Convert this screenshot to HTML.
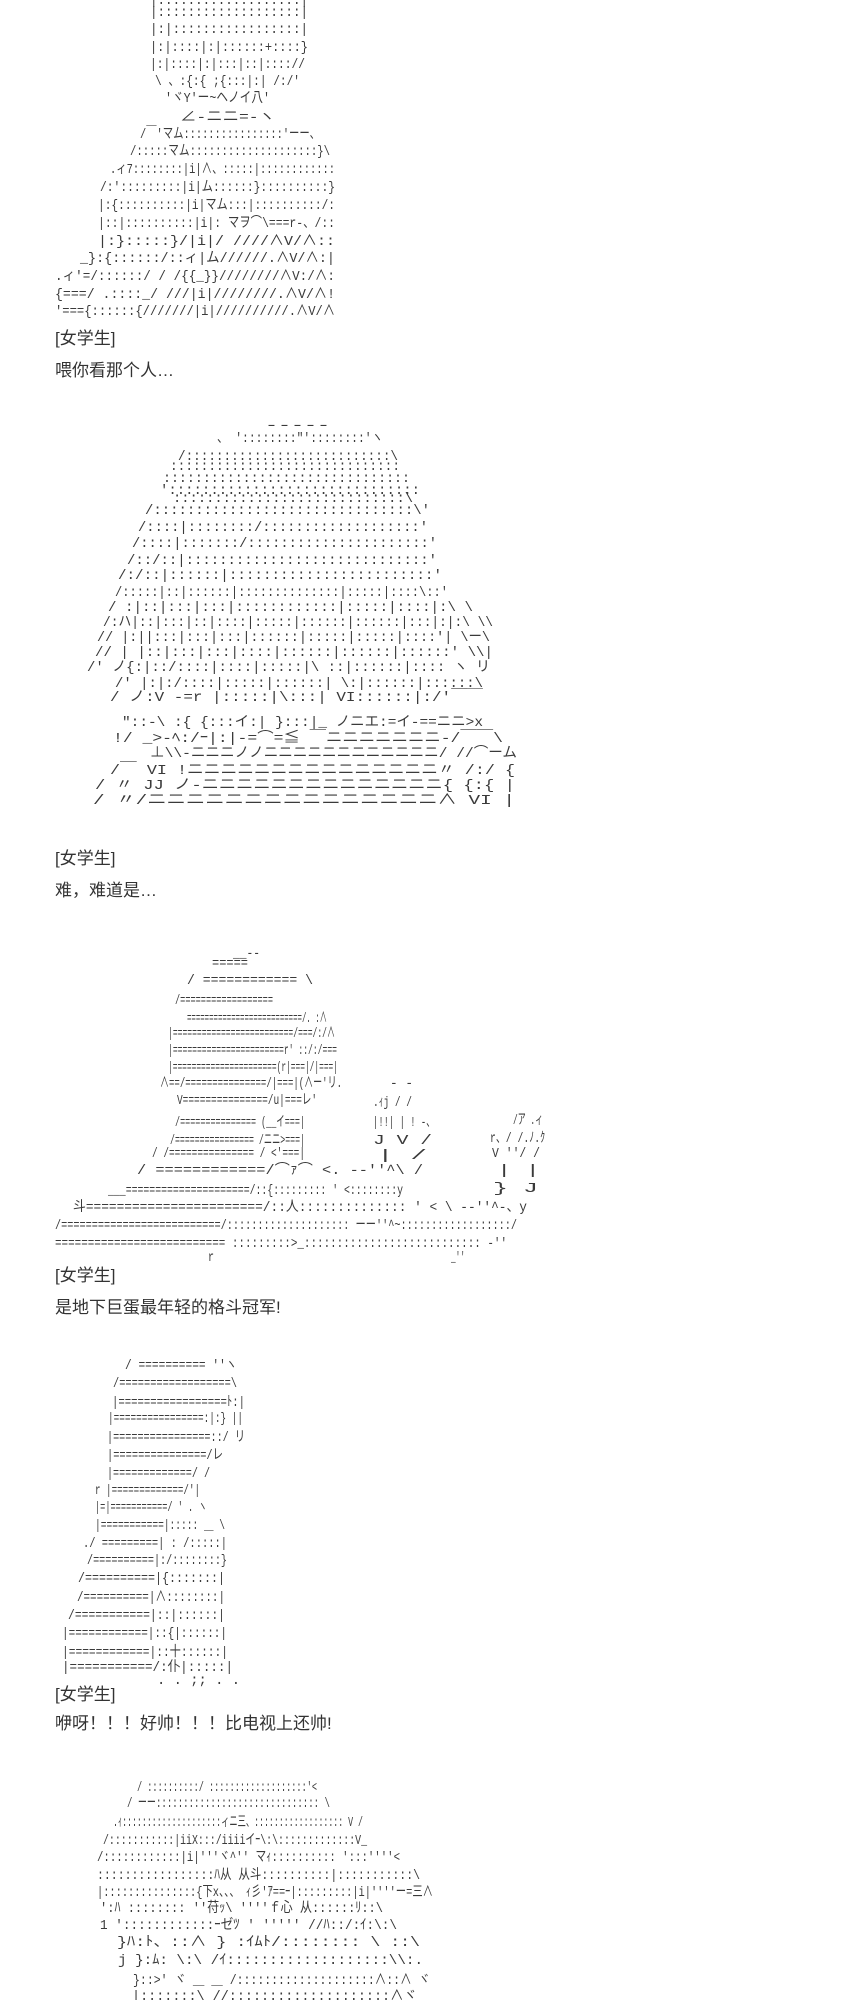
<!DOCTYPE html>
<html><head><meta charset="utf-8"><style>
html,body{margin:0;padding:0;background:#fff;width:857px;height:2000px;overflow:hidden;position:relative}
svg{display:block;position:absolute;left:0}
.a{font-family:"Liberation Mono","Noto Sans CJK JP",monospace;font-size:14px;fill:#3a3a3a}
.t{position:absolute;left:55px;font-family:"Liberation Sans","Noto Sans CJK SC",sans-serif;font-size:17px;line-height:20px;color:#333;white-space:nowrap}
</style></head><body>

<svg style="top:0" width="857" height="330" xmlns="http://www.w3.org/2000/svg" class="a" xml:space="preserve">
<text x="150" y="4" textLength="158" lengthAdjust="spacingAndGlyphs">|:::::::::::::::::::|</text>
<text x="150" y="16" textLength="158" lengthAdjust="spacingAndGlyphs">|:::::::::::::::::::|</text>
<text x="150" y="33" textLength="158" lengthAdjust="spacingAndGlyphs">|:|:::::::::::::::::|</text>
<text x="150" y="51" textLength="158" lengthAdjust="spacingAndGlyphs">|:|::::|:|::::::+::::}</text>
<text x="150" y="68" textLength="155" lengthAdjust="spacingAndGlyphs">|:|::::|:|:::|::|:::://</text>
<text x="155" y="85" textLength="145" lengthAdjust="spacingAndGlyphs">\ 、:{:{ ;{:::|:|  /:/'</text>
<text x="165" y="102" textLength="105" lengthAdjust="spacingAndGlyphs">'ヾY'ー~ヘノイ八'</text>
<text x="180" y="121" textLength="95" lengthAdjust="spacingAndGlyphs">∠-ニニ=-ヽ</text>
<text x="140" y="138" textLength="180" lengthAdjust="spacingAndGlyphs">/￣'マム::::::::::::::::'ーー、</text>
<text x="130" y="155" textLength="200" lengthAdjust="spacingAndGlyphs">/:::::マム::::::::::::::::::::}\</text>
<text x="110" y="173" textLength="225" lengthAdjust="spacingAndGlyphs">.ィ7::::::::|i|∧、:::::|::::::::::::</text>
<text x="100" y="191" textLength="235" lengthAdjust="spacingAndGlyphs">/:':::::::::|i|ム::::::}::::::::::}</text>
<text x="98" y="209" textLength="237" lengthAdjust="spacingAndGlyphs">|:{::::::::::|i|マム:::|::::::::::/:</text>
<text x="98" y="227" textLength="237" lengthAdjust="spacingAndGlyphs">|::|::::::::::|i|: マヲ⌒\===r-、/::</text>
<text x="98" y="245" textLength="237" lengthAdjust="spacingAndGlyphs">|:}:::::}/|i|/ ////∧V/∧::</text>
<text x="80" y="262" textLength="255" lengthAdjust="spacingAndGlyphs">_}:{::::::/::ィ|ム//////.∧V/∧:|</text>
<text x="55" y="280" textLength="280" lengthAdjust="spacingAndGlyphs">.ィ'=/::::::/ / /{{_}}////////∧V:/∧:</text>
<text x="55" y="298" textLength="280" lengthAdjust="spacingAndGlyphs">{===/ .::::_/ ///|i|////////.∧V/∧!</text>
<text x="55" y="315" textLength="280" lengthAdjust="spacingAndGlyphs">'==={::::::{///////|i|//////////.∧V/∧</text>
</svg>

<svg style="top:400px" width="857" height="420" xmlns="http://www.w3.org/2000/svg" class="a" xml:space="preserve">
<g transform="translate(0,-400)">
<text x="265" y="429" textLength="65" lengthAdjust="spacingAndGlyphs">-----</text>
<text x="217" y="442" textLength="166" lengthAdjust="spacingAndGlyphs">、 '::::::::"'::::::::'ヽ</text>
<text x="178" y="460" textLength="220" lengthAdjust="spacingAndGlyphs">/:::::::::::::::::::::::::::\</text>
<text x="170" y="470" textLength="230" lengthAdjust="spacingAndGlyphs">::::::::::::::::::::::::::::::</text>
<text x="163" y="482" textLength="247" lengthAdjust="spacingAndGlyphs">:::::::::::::::::::::::::::::::</text>
<text x="160" y="494" textLength="260" lengthAdjust="spacingAndGlyphs">'::::::::::::::::::::::::::::::</text>
<text x="173" y="502" textLength="240" lengthAdjust="spacingAndGlyphs">::::::::::::::::::::::::::::\</text>
<text x="145" y="514" textLength="285" lengthAdjust="spacingAndGlyphs">/:::::::::::::::::::::::::::::::\'</text>
<text x="138" y="531" textLength="290" lengthAdjust="spacingAndGlyphs">/::::|::::::::/:::::::::::::::::::'</text>
<text x="132" y="547" textLength="305" lengthAdjust="spacingAndGlyphs">/::::|:::::::/::::::::::::::::::::::'</text>
<text x="127" y="564" textLength="310" lengthAdjust="spacingAndGlyphs">/::/::|:::::::::::::::::::::::::::::'</text>
<text x="118" y="579" textLength="324" lengthAdjust="spacingAndGlyphs">/:/::|::::::|::::::::::::::::::::::::'</text>
<text x="115" y="596" textLength="333" lengthAdjust="spacingAndGlyphs">/:::::|::|::::::|::::::::::::::|:::::|::::\::'</text>
<text x="108" y="611" textLength="365" lengthAdjust="spacingAndGlyphs">/ :|::|:::|:::|::::::::::::|:::::|::::|:\  \</text>
<text x="103" y="626" textLength="390" lengthAdjust="spacingAndGlyphs">/:ハ|::|:::|::|::::|:::::|::::::|::::::|:::|:|:\ \\</text>
<text x="97" y="641" textLength="393" lengthAdjust="spacingAndGlyphs">// |:||:::|:::|:::|::::::|:::::|:::::|::::'|  \ー\</text>
<text x="95" y="656" textLength="398" lengthAdjust="spacingAndGlyphs">//  | |::|:::|:::|::::|::::::|::::::|::::::'   \\|</text>
<text x="87" y="671" textLength="403" lengthAdjust="spacingAndGlyphs">/'   ノ{:|::/::::|::::|:::::|\ ::|::::::|::::  ヽ  リ</text>
<text x="115" y="687" textLength="368" lengthAdjust="spacingAndGlyphs">/'  |:|:/::::|:::::|::::::| \:|::::::|::::::\</text>
<text x="110" y="701" textLength="373" lengthAdjust="spacingAndGlyphs">/  ノ:V -=r |:::::|\:::|   VI::::::|:/'￣￣</text>
<text x="122" y="726" textLength="361" lengthAdjust="spacingAndGlyphs">"::-\ :{ {:::イ:|  }:::|_ ノニエ:=イ-==ニニ&gt;x</text>
<text x="113" y="742" textLength="390" lengthAdjust="spacingAndGlyphs">!/   _&gt;-ﾍ:/ｰ|:|-=⌒=≦ ￣ニニニニニニニ-/￣￣\</text>
<text x="150" y="757" textLength="367" lengthAdjust="spacingAndGlyphs">⊥\\-ニニニノノニニニニニニニニニニニニ/ //⌒ーム</text>
<text x="110" y="774" textLength="405" lengthAdjust="spacingAndGlyphs">/￣  VI !ニニニニニニニニニニニニニニニ〃 /:/      {</text>
<text x="95" y="789" textLength="420" lengthAdjust="spacingAndGlyphs">/  〃   JJ ノ-ニニニニニニニニニニニニニニ{ {:{      |</text>
<text x="93" y="804" textLength="422" lengthAdjust="spacingAndGlyphs">/     〃/ニニニニニニニニニニニニニニニ∧ VI      |</text>
</g>
</svg>

<svg style="top:940px" width="857" height="330" xmlns="http://www.w3.org/2000/svg" class="a" xml:space="preserve">
<g transform="translate(0,-940)">
<text x="233" y="957" textLength="27" lengthAdjust="spacingAndGlyphs">__--</text>
<text x="212" y="967" textLength="36" lengthAdjust="spacingAndGlyphs">=====</text>
<text x="187" y="984" textLength="126" lengthAdjust="spacingAndGlyphs">/ ============        \</text>
<text x="175" y="1004" textLength="98" lengthAdjust="spacingAndGlyphs">/==================</text>
<text x="187" y="1022" textLength="140" lengthAdjust="spacingAndGlyphs">==========================/. :∧</text>
<text x="168" y="1037" textLength="167" lengthAdjust="spacingAndGlyphs">|=========================/===/:/∧</text>
<text x="168" y="1054" textLength="169" lengthAdjust="spacingAndGlyphs">|=======================r'  ::/:/===</text>
<text x="168" y="1071" textLength="170" lengthAdjust="spacingAndGlyphs">|======================(r|===|/|===|</text>
<text x="160" y="1087" textLength="182" lengthAdjust="spacingAndGlyphs">∧==/===============/|===|(∧ー'リ.</text>
<text x="390" y="1087" textLength="23" lengthAdjust="spacingAndGlyphs">- -</text>
<text x="177" y="1104" textLength="140" lengthAdjust="spacingAndGlyphs">V===============/u|===レ'</text>
<text x="373" y="1106" textLength="39" lengthAdjust="spacingAndGlyphs">.ｨj / /</text>
<text x="175" y="1126" textLength="130" lengthAdjust="spacingAndGlyphs">/===============  (__イ===|</text>
<text x="373" y="1126" textLength="62" lengthAdjust="spacingAndGlyphs">|!!| |  !  -、</text>
<text x="513" y="1124" textLength="30" lengthAdjust="spacingAndGlyphs">/ア .ィ</text>
<text x="170" y="1144" textLength="135" lengthAdjust="spacingAndGlyphs">/================ /ニニ&gt;===|</text>
<text x="373" y="1144" textLength="59" lengthAdjust="spacingAndGlyphs">J    V  /</text>
<text x="490" y="1142" textLength="55" lengthAdjust="spacingAndGlyphs">r、/ /.ﾉ.ｸ</text>
<text x="152" y="1157" textLength="153" lengthAdjust="spacingAndGlyphs">/ /=============== /   &lt;'===|</text>
<text x="377" y="1159" textLength="50" lengthAdjust="spacingAndGlyphs">|         /</text>
<text x="492" y="1157" textLength="48" lengthAdjust="spacingAndGlyphs">V  ''/ /</text>
<text x="137" y="1174" textLength="286" lengthAdjust="spacingAndGlyphs">/ ============/⌒ｧ⌒  &lt;.  --''^\   /</text>
<text x="497" y="1174" textLength="43" lengthAdjust="spacingAndGlyphs">|     |</text>
<text x="108" y="1194" textLength="295" lengthAdjust="spacingAndGlyphs">___=====================/::{:::::::::  ' &lt;::::::::y</text>
<text x="493" y="1192" textLength="45" lengthAdjust="spacingAndGlyphs">}   J</text>
<text x="73" y="1211" textLength="454" lengthAdjust="spacingAndGlyphs">斗=======================/::人::::::::::::::  ' &lt;  \    --''^-、y</text>
<text x="55" y="1229" textLength="462" lengthAdjust="spacingAndGlyphs">/==========================/::::::::::::::::::::    ーー''^~::::::::::::::::::/</text>
<text x="55" y="1247" textLength="452" lengthAdjust="spacingAndGlyphs">==========================  :::::::::&gt;_:::::::::::::::::::::::::::  -''</text>
<text x="208" y="1261" textLength="6" lengthAdjust="spacingAndGlyphs">r</text>
<text x="451" y="1261" textLength="14" lengthAdjust="spacingAndGlyphs">_''</text>
</g>
</svg>

<svg style="top:1355px" width="857" height="335" xmlns="http://www.w3.org/2000/svg" class="a" xml:space="preserve">
<g transform="translate(0,-1355)">
<text x="125" y="1369" textLength="112" lengthAdjust="spacingAndGlyphs">/ ==========  ''ヽ</text>
<text x="113" y="1387" textLength="124" lengthAdjust="spacingAndGlyphs">/==================\</text>
<text x="112" y="1406" textLength="133" lengthAdjust="spacingAndGlyphs">|=================ﾄ:|</text>
<text x="108" y="1422" textLength="135" lengthAdjust="spacingAndGlyphs">|================:|:} ||</text>
<text x="107" y="1441" textLength="138" lengthAdjust="spacingAndGlyphs">|================::/ リ</text>
<text x="107" y="1459" textLength="116" lengthAdjust="spacingAndGlyphs">|===============/レ</text>
<text x="107" y="1477" textLength="103" lengthAdjust="spacingAndGlyphs">|=============/ /</text>
<text x="95" y="1494" textLength="105" lengthAdjust="spacingAndGlyphs">r |=============/'|</text>
<text x="95" y="1511" textLength="112" lengthAdjust="spacingAndGlyphs">|=|===========/ ' . ヽ</text>
<text x="95" y="1529" textLength="130" lengthAdjust="spacingAndGlyphs">|===========|:::::  ＿ \</text>
<text x="83" y="1547" textLength="144" lengthAdjust="spacingAndGlyphs">./ =========|  :  /:::::|</text>
<text x="87" y="1564" textLength="140" lengthAdjust="spacingAndGlyphs">/==========|:/::::::::}</text>
<text x="78" y="1582" textLength="147" lengthAdjust="spacingAndGlyphs">/==========|{:::::::|</text>
<text x="77" y="1601" textLength="148" lengthAdjust="spacingAndGlyphs">/==========|∧::::::::|</text>
<text x="68" y="1619" textLength="157" lengthAdjust="spacingAndGlyphs">/===========|::|::::::|</text>
<text x="62" y="1637" textLength="165" lengthAdjust="spacingAndGlyphs">|============|::{|::::::|</text>
<text x="62" y="1656" textLength="166" lengthAdjust="spacingAndGlyphs">|============|::十::::::|</text>
<text x="62" y="1671" textLength="171" lengthAdjust="spacingAndGlyphs">|===========/:仆|:::::|</text>
<text x="157" y="1684" textLength="83" lengthAdjust="spacingAndGlyphs">. .   ;;  .        .</text>
</g>
</svg>

<svg style="top:1775px" width="857" height="225" xmlns="http://www.w3.org/2000/svg" class="a" xml:space="preserve">
<g transform="translate(0,-1775)">
<text x="137" y="1791" textLength="180" lengthAdjust="spacingAndGlyphs">/ ::::::::::/ :::::::::::::::::::'&lt;</text>
<text x="127" y="1807" textLength="203" lengthAdjust="spacingAndGlyphs">/ ーー::::::::::::::::::::::::::::::  \</text>
<text x="113" y="1826" textLength="250" lengthAdjust="spacingAndGlyphs">.ｨ::::::::::::::::::::ィニ三、:::::::::::::::::: V  /</text>
<text x="103" y="1844" textLength="264" lengthAdjust="spacingAndGlyphs">/:::::::::::|iiX:::/iiiiイｰ\:\:::::::::::::V_</text>
<text x="97" y="1861" textLength="303" lengthAdjust="spacingAndGlyphs">/::::::::::::|i|'''ヾ^''        マｨ::::::::::  ':::''''&lt;</text>
<text x="97" y="1879" textLength="323" lengthAdjust="spacingAndGlyphs">:::::::::::::::::ﾊ从          从斗::::::::::|:::::::::::\</text>
<text x="97" y="1896" textLength="336" lengthAdjust="spacingAndGlyphs">|:::::::::::::::{下x、、、     ｨ彡'ｱ==ｰ|:::::::::|i|''''ー=三∧</text>
<text x="100" y="1912" textLength="283" lengthAdjust="spacingAndGlyphs">':ﾊ  ::::::::  ''苻ｯ\        ''''ｆ心 从::::::ﾘ::\</text>
<text x="100" y="1929" textLength="297" lengthAdjust="spacingAndGlyphs">1  '::::::::::::ｰゼﾂ         '  '''''  //ﾊ::/:ｲ:\:\</text>
<text x="117" y="1946" textLength="303" lengthAdjust="spacingAndGlyphs">}ﾊ:ﾄ、::∧           }           :ｲﾑﾄ/::::::::  \ ::\</text>
<text x="118" y="1964" textLength="305" lengthAdjust="spacingAndGlyphs">j  }:ﾑ:  \:\                      /ｲ:::::::::::::::::::\\:.</text>
<text x="133" y="1984" textLength="297" lengthAdjust="spacingAndGlyphs">}::&gt;' ヾ        ＿  ＿        /::::::::::::::::::::∧::∧ ヾ</text>
<text x="132" y="2000" textLength="285" lengthAdjust="spacingAndGlyphs">|:::::::\                     //::::::::::::::::::::∧ヾ</text>
</g>
</svg>

<div class="t" style="top:329px">[女学生]</div>
<div class="t" style="top:361px">喂你看那个人…</div>
<div class="t" style="top:849px">[女学生]</div>
<div class="t" style="top:881px">难，难道是…</div>
<div class="t" style="top:1266px">[女学生]</div>
<div class="t" style="top:1298px">是地下巨蛋最年轻的格斗冠军!</div>
<div class="t" style="top:1685px">[女学生]</div>
<div class="t" style="top:1714px">咿呀！！！好帅！！！比电视上还帅!</div>
</body></html>
